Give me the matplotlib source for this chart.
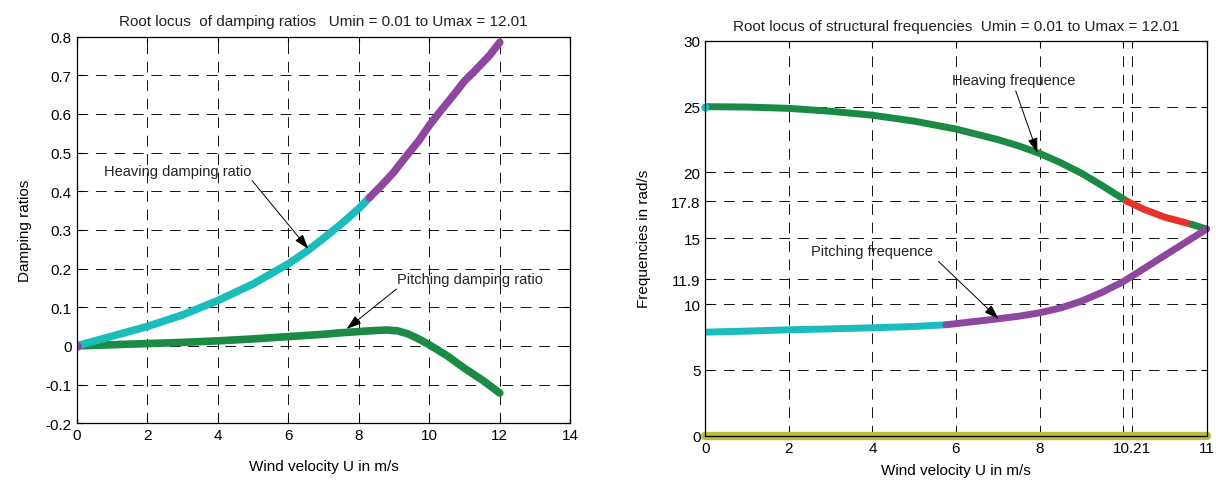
import matplotlib
matplotlib.use('Agg')
import matplotlib.pyplot as plt

plt.rcParams['font.family'] = ['Liberation Sans', 'DejaVu Sans']
plt.rcParams['text.color'] = '#222222'

# left plot: damping ratios
U_hd_c = [0, 1, 2, 3, 4, 5, 6, 6.5, 7, 7.5, 8, 8.3]
hd_c = [0, 0.025, 0.05, 0.08, 0.117, 0.16, 0.212, 0.243, 0.278, 0.315, 0.355, 0.383]
U_hd_p = [8.3, 8.7, 9, 9.3, 9.7, 10, 10.3, 10.7, 11, 11.3, 11.7, 12]
hd_p = [0.383, 0.42, 0.45, 0.485, 0.53, 0.57, 0.605, 0.65, 0.685, 0.712, 0.75, 0.785]
U_pd = [0, 1, 2, 3, 4, 5, 6, 7, 7.5, 8, 8.5, 8.8, 9.1, 9.4, 9.7, 10, 10.5, 11, 11.5, 12]
pd = [0, 0.003, 0.006, 0.009, 0.013, 0.018, 0.024, 0.03, 0.034, 0.037, 0.04, 0.041,
      0.039, 0.031, 0.018, 0.003, -0.025, -0.058, -0.088, -0.122]

# right plot: frequencies
U_hf_g = [0, 1, 2, 3, 4, 5, 6, 7, 7.5, 8, 8.5, 9, 9.5, 10, 10.1]
hf_g = [25, 24.97, 24.87, 24.65, 24.35, 23.9, 23.3, 22.5, 22.02, 21.45, 20.75, 19.95, 19.0, 18.0, 17.8]
U_hf_r = [10.1, 10.5, 11, 11.65]
hf_r = [17.8, 17.2, 16.6, 16.05]
U_hf_e = [11.65, 12]
hf_e = [16.05, 15.7]
U_pf_c = [0, 1, 2, 3, 4, 5, 5.76]
pf_c = [7.87, 7.95, 8.05, 8.12, 8.2, 8.3, 8.43]
U_pf_p = [5.76, 6.5, 7, 7.5, 8, 8.5, 9, 9.5, 10, 10.5, 11, 11.5, 12]
pf_p = [8.43, 8.7, 8.88, 9.08, 9.34, 9.7, 10.22, 10.9, 11.7, 12.7, 13.7, 14.7, 15.7]
U_zero = [0, 12]
f_zero = [0, 0]

xt_right = [0, 2, 4, 6, 8, 10, 10.21, 12]
xt_right_lbl = ['0', '2', '4', '6', '8', '', '10.21', '11']
yt_right = [0, 5, 10, 11.9, 15, 17.8, 20, 25, 30]
yt_right_lbl = ['0', '5', '10', '11.9', '15', '17.8', '20', '25', '30']

cyan = '#1bbcbc'
purple = '#8e479e'
green = '#1b8a45'
red = '#e8312a'
olive = '#bcbd36'

fig = plt.figure(figsize=(12.16, 4.81), dpi=100)
ax1 = fig.add_axes([0.063, 0.118, 0.406, 0.804])
ax2 = fig.add_axes([0.58, 0.092, 0.4123, 0.821])

def style(ax):
    ax.grid(True, color='#111111', ls=(0, (11, 8)), lw=0.7)
    ax.tick_params(direction='in', top=True, right=True, labelsize=11, length=4)
    for s in ax.spines.values():
        s.set_linewidth(0.9)

arr = dict(arrowstyle='-|>,head_length=0.9,head_width=0.3', color='k', lw=0.7, shrinkA=0, shrinkB=0)

kw = dict(solid_capstyle='round', lw=5.5)
ax1.plot(U_pd, pd, color=green, **kw)
ax1.plot(U_hd_c, hd_c, color=cyan, **kw)
ax1.plot(U_hd_p, hd_p, color=purple, **kw)
ax1.plot([0], [0], 'o', color=purple, ms=5)
ax1.set_xlim(0, 14)
ax1.set_ylim(-0.2, 0.8)
ax1.set_xticks(range(0, 15, 2))
ax1.set_yticks([-0.2, -0.1, 0, 0.1, 0.2, 0.3, 0.4, 0.5, 0.6, 0.7, 0.8])
ax1.set_yticklabels(['-0.2', '-0.1', '0', '0.1', '0.2', '0.3', '0.4', '0.5', '0.6', '0.7', '0.8'])
style(ax1)
ax1.set_title('Root locus  of damping ratios   Umin = 0.01 to Umax = 12.01', fontsize=11, pad=8)
ax1.set_xlabel('Wind velocity U in m/s', fontsize=11, labelpad=12)
ax1.set_ylabel('Damping ratios', fontsize=11, labelpad=10)
ax1.text(2.86, 0.453, 'Heaving damping ratio', ha='center', va='center', fontsize=10.5)
ax1.annotate('', xy=(6.57, 0.251), xytext=(4.98, 0.427), arrowprops=arr)
ax1.text(11.15, 0.173, 'Pitching damping ratio', ha='center', va='center', fontsize=10.5)
ax1.annotate('', xy=(7.66, 0.044), xytext=(9.07, 0.147), arrowprops=arr)

kw = dict(solid_capstyle='round', lw=5)
ax2.plot(U_zero, f_zero, color=olive, lw=6, solid_capstyle='round', clip_on=False)
ax2.plot(U_hf_g, hf_g, color=green, **kw)
ax2.plot(U_hf_r, hf_r, color=red, **kw)
ax2.plot(U_hf_e, hf_e, color=green, clip_on=False, **kw)
ax2.plot(U_pf_c, pf_c, color=cyan, **kw)
ax2.plot(U_pf_p, pf_p, color=purple, clip_on=False, **kw)
ax2.plot([0], [25], 'o', color=cyan, ms=5, clip_on=False)
ax2.set_xlim(0, 12)
ax2.set_ylim(0, 30)
ax2.set_xticks(xt_right)
ax2.set_xticklabels(xt_right_lbl)
ax2.set_yticks(yt_right)
ax2.set_yticklabels(yt_right_lbl)
style(ax2)
ax2.set_title('Root locus of structural frequencies  Umin = 0.01 to Umax = 12.01', fontsize=11, pad=8)
ax2.set_xlabel('Wind velocity U in m/s', fontsize=11, labelpad=6)
ax2.set_ylabel('Frequencies in rad/s', fontsize=11, labelpad=14)
ax2.text(7.39, 27.0, 'Heaving frequence', ha='center', va='center', fontsize=10.5)
ax2.annotate('', xy=(7.95, 21.5), xytext=(7.43, 26.2), arrowprops=arr)
ax2.text(4.0, 14.0, 'Pitching frequence', ha='center', va='center', fontsize=10.5)
ax2.annotate('', xy=(7.02, 8.88), xytext=(5.58, 13.25), arrowprops=arr)

fig.savefig('out.png', dpi=100)
